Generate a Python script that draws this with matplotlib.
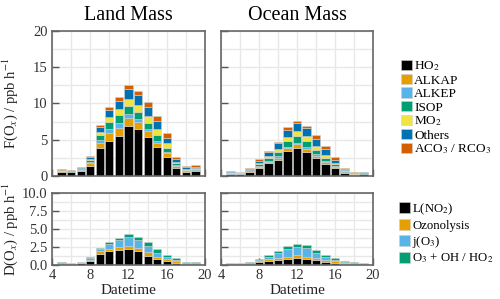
import numpy as np
import matplotlib
matplotlib.use("Agg")
import matplotlib.pyplot as plt
from matplotlib.ticker import MultipleLocator, FormatStrFormatter

plt.rcParams['font.family'] = ['Liberation Serif', 'DejaVu Serif']
plt.rcParams['mathtext.fontset'] = 'stix'

hours = np.arange(5, 20)

# production terms F(Ox), ppb h-1 (stacked bottom to top)
prod_names = ["HO$_2$", "ALKAP", "ALKEP", "ISOP", "MO$_2$", "Others", "ACO$_3$ / RCO$_3$"]
prod_colors = ["#000000", "#E69F00", "#56B4E9", "#009E73", "#F0E442", "#0072B2", "#D55E00"]

land_ho2 = [0.60, 0.50, 0.74, 1.38, 3.80, 4.83, 5.50, 6.90, 6.53, 5.43, 4.05, 2.67, 1.06, 0.55, 0.64]
land_alkap = [0.08, 0.07, 0.12, 0.37, 0.78, 1.05, 1.05, 1.05, 0.97, 0.83, 0.55, 0.46, 0.32, 0.14, 0.14]
land_alkep = [0.03, 0.03, 0.08, 0.23, 0.37, 0.55, 0.70, 0.55, 0.30, 0.18, 0.23, 0.18, 0.14, 0.05, 0.05]
land_isop = [0.02, 0.03, 0.12, 0.23, 0.70, 1.05, 1.15, 1.15, 1.05, 0.92, 0.78, 0.55, 0.23, 0.12, 0.10]
land_mo2 = [0.10, 0.08, 0.08, 0.18, 0.45, 0.70, 0.80, 0.90, 0.92, 0.92, 0.83, 0.64, 0.18, 0.14, 0.14]
land_others = [0.03, 0.04, 0.10, 0.23, 0.60, 0.90, 1.15, 1.40, 1.38, 1.29, 1.10, 0.74, 0.37, 0.18, 0.20]
land_aco3 = [0.04, 0.05, 0.05, 0.14, 0.30, 0.37, 0.50, 0.65, 0.60, 0.69, 0.74, 0.74, 0.37, 0.20, 0.20]

ocean_ho2 = [0.28, 0.28, 0.55, 1.15, 1.75, 2.20, 3.45, 3.82, 3.36, 2.44, 1.66, 1.06, 0.37, 0.18, 0.23]
ocean_alkap = [0.05, 0.05, 0.08, 0.14, 0.23, 0.32, 0.37, 0.55, 0.32, 0.37, 0.32, 0.23, 0.12, 0.05, 0.05]
ocean_alkep = [0.03, 0.03, 0.05, 0.09, 0.14, 0.18, 0.23, 0.23, 0.28, 0.18, 0.14, 0.09, 0.05, 0.03, 0.03]
ocean_isop = [0.12, 0.07, 0.10, 0.23, 0.32, 0.64, 0.78, 0.92, 0.87, 0.60, 0.32, 0.23, 0.10, 0.05, 0.05]
ocean_mo2 = [0.12, 0.10, 0.10, 0.23, 0.32, 0.37, 0.60, 0.74, 0.69, 0.55, 0.46, 0.23, 0.12, 0.08, 0.08]
ocean_others = [0.03, 0.03, 0.12, 0.28, 0.50, 0.78, 0.92, 1.01, 1.06, 0.92, 0.78, 0.37, 0.15, 0.06, 0.06]
ocean_aco3 = [0.07, 0.04, 0.05, 0.18, 0.23, 0.23, 0.37, 0.37, 0.32, 0.60, 0.46, 0.37, 0.15, 0.10, 0.10]

# destruction terms D(Ox), ppb h-1
loss_names = ["L(NO$_2$)", "Ozonolysis", "j(O$_3$)", "O$_3$ + OH / HO$_2$"]
loss_colors = ["#000000", "#E69F00", "#56B4E9", "#009E73"]

land_lno2 = [0.20, 0.15, 0.25, 0.56, 1.55, 1.88, 2.07, 2.21, 1.88, 1.31, 0.80, 0.56, 0.33, 0.14, 0.14]
land_ozon = [0.08, 0.07, 0.08, 0.14, 0.33, 0.38, 0.42, 0.47, 0.47, 0.47, 0.38, 0.28, 0.23, 0.08, 0.08]
land_jo3 = [0.05, 0.03, 0.07, 0.23, 0.28, 0.66, 0.94, 1.17, 1.08, 0.89, 0.47, 0.23, 0.14, 0.05, 0.05]
land_o3oh = [0.07, 0.05, 0.07, 0.14, 0.23, 0.33, 0.33, 0.47, 0.52, 0.47, 0.52, 0.33, 0.23, 0.10, 0.10]

ocean_lno2 = [0.10, 0.10, 0.15, 0.38, 0.56, 0.70, 0.85, 0.94, 0.85, 0.66, 0.47, 0.33, 0.15, 0.10, 0.08]
ocean_ozon = [0.08, 0.08, 0.10, 0.14, 0.23, 0.33, 0.33, 0.38, 0.33, 0.33, 0.28, 0.20, 0.12, 0.10, 0.08]
ocean_jo3 = [0.05, 0.05, 0.08, 0.20, 0.38, 0.70, 1.08, 1.22, 1.17, 0.66, 0.33, 0.14, 0.08, 0.07, 0.05]
ocean_o3oh = [0.10, 0.10, 0.14, 0.13, 0.24, 0.24, 0.42, 0.42, 0.38, 0.47, 0.33, 0.27, 0.17, 0.15, 0.12]

land_prod = [land_ho2, land_alkap, land_alkep, land_isop, land_mo2, land_others, land_aco3]
ocean_prod = [ocean_ho2, ocean_alkap, ocean_alkep, ocean_isop, ocean_mo2, ocean_others, ocean_aco3]
land_loss = [land_lno2, land_ozon, land_jo3, land_o3oh]
ocean_loss = [ocean_lno2, ocean_ozon, ocean_jo3, ocean_o3oh]


def stack(ax, series, colors, names):
    bottom = np.zeros(len(hours))
    handles = []
    for vals, col, name in zip(series, colors, names):
        h = ax.bar(hours, vals, width=0.85, bottom=bottom, color=col,
                   edgecolor="#d0d0d0", linewidth=0.4, label=name, zorder=2)
        handles.append(h)
        bottom += np.array(vals)
    return handles


def style(ax, ymax, ymajor, yminor, show_y, show_x):
    ax.set_xlim(4, 20)
    ax.set_ylim(0, ymax)
    ax.xaxis.set_major_locator(MultipleLocator(4))
    ax.xaxis.set_minor_locator(MultipleLocator(2))
    ax.yaxis.set_major_locator(MultipleLocator(ymajor))
    ax.yaxis.set_minor_locator(MultipleLocator(yminor))
    ax.grid(which="both", color="#e8e8e8", linewidth=1.0, zorder=0)
    ax.set_axisbelow(True)
    ax.tick_params(which="major", direction="in", length=5, width=1.0, color="#555555",
                   labelsize=10.5, labelcolor="#333333", pad=3)
    ax.tick_params(which="minor", length=0)
    ax.tick_params(axis="y", labelleft=show_y)
    ax.tick_params(axis="x", labelbottom=show_x)
    for s in ax.spines.values():
        s.set_color("#666666")
        s.set_linewidth(1.2)


fig = plt.figure(figsize=(5.0, 2.99), dpi=100)
ax1 = fig.add_axes([0.104, 0.4114, 0.306, 0.485])
ax2 = fig.add_axes([0.442, 0.4114, 0.304, 0.485])
ax3 = fig.add_axes([0.104, 0.1137, 0.306, 0.241])
ax4 = fig.add_axes([0.442, 0.1137, 0.304, 0.241])

stack(ax1, land_prod, prod_colors, prod_names)
hp = stack(ax2, ocean_prod, prod_colors, prod_names)
stack(ax3, land_loss, loss_colors, loss_names)
hl = stack(ax4, ocean_loss, loss_colors, loss_names)

style(ax1, 20, 5, 2.5, True, False)
style(ax2, 20, 5, 2.5, False, False)
style(ax3, 10, 2.5, 1.25, True, True)
style(ax4, 10, 2.5, 1.25, False, True)
ax3.yaxis.set_major_formatter(FormatStrFormatter("%.1f"))

ax1.set_title("Land Mass", fontsize=14.5, pad=8)
ax2.set_title("Ocean Mass", fontsize=14.5, pad=8)
ax1.set_ylabel("F(O$_x$) / ppb h$^{-1}$", fontsize=10.5, color="#222222")
ax3.set_ylabel("D(O$_x$) / ppb h$^{-1}$", fontsize=10.5, color="#222222")
ax3.set_xlabel("Datetime", fontsize=11, labelpad=1, color="#222222")
ax4.set_xlabel("Datetime", fontsize=11, labelpad=1, color="#222222")
ax1.yaxis.set_label_coords(-0.21, 0.5)
ax3.yaxis.set_label_coords(-0.21, 0.5)

leg1 = ax2.legend(hp, prod_names, loc="center left", bbox_to_anchor=(1.15, 0.47),
                  frameon=False, fontsize=9.5, handlelength=0.8, handleheight=0.85,
                  handletextpad=0.2, labelspacing=0.05, borderaxespad=0)
leg2 = ax4.legend(hl, loss_names, loc="center left", bbox_to_anchor=(1.14, 0.44),
                  frameon=False, fontsize=9.2, handlelength=0.8, handleheight=0.95,
                  handletextpad=0.2, labelspacing=0.15, borderaxespad=0)

fig.savefig("out.png", dpi=100)
